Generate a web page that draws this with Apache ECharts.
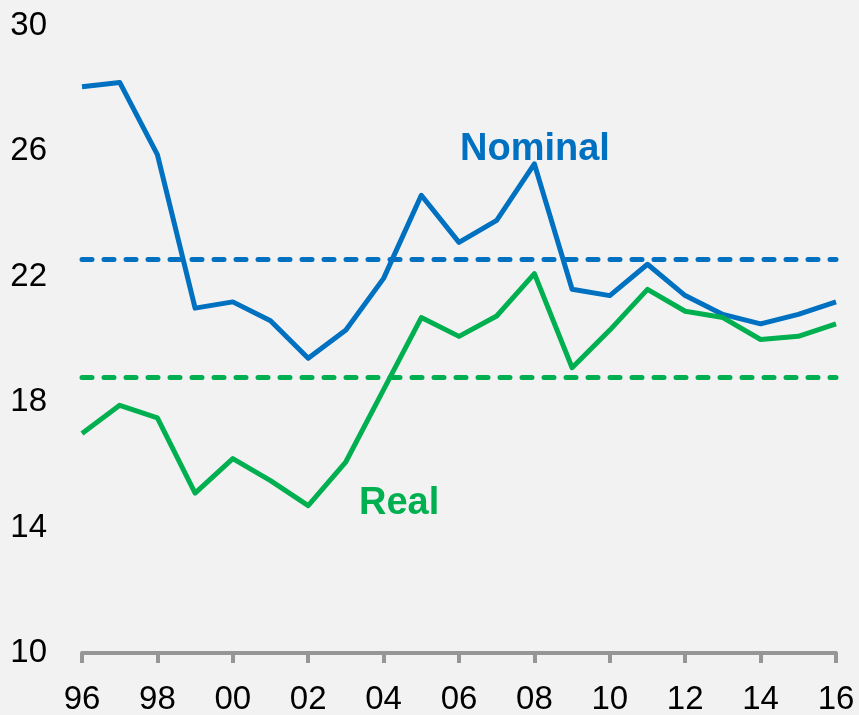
<!DOCTYPE html>
<html>
<head>
<meta charset="utf-8">
<script src="https://cdn.jsdelivr.net/npm/echarts@6/dist/echarts.min.js"></script>
<style>
html,body{margin:0;padding:0;background:#F2F2F2;}
#c{width:859px;height:715px;}
</style>
</head>
<body>
<div id="c"></div>
<script>
const years = ['96','97','98','99','00','01','02','03','04','05','06','07','08','09','10','11','12','13','14','15','16'];
const nominal = [28.06,28.2,25.9,21.0,21.2,20.6,19.4,20.3,21.95,24.6,23.1,23.8,25.6,21.6,21.4,22.4,21.4,20.8,20.5,20.8,21.2];
const real = [17.0,17.9,17.5,15.1,16.2,15.5,14.7,16.1,18.4,20.7,20.1,20.75,22.1,19.1,20.3,21.6,20.9,20.7,20.0,20.1,20.5];
const nominalAvg = 22.56;
const realAvg = 18.8;
const yTicks = [10,14,18,22,26,30];

const BLUE = '#0070C0', GREEN = '#00B050';
const chart = echarts.init(document.getElementById('c'), null, {renderer:'canvas'});
const dashStyle = (color) => ({color:color, width:5, type:[10,12], cap:'round'});
chart.setOption({
  backgroundColor:'#F2F2F2',
  animation:false,
  grid:{left:82,right:23,top:26,bottom:62,containLabel:false,outerBoundsMode:'none'},
  xAxis:{
    type:'category', data:years, boundaryGap:false,
    axisLine:{show:true,lineStyle:{color:'#969696',width:4}},
    axisTick:{show:true,interval:1,length:10,lineStyle:{color:'#969696',width:4}},
    axisLabel:{interval:1,fontSize:33,color:'#000',margin:30,fontFamily:'Liberation Sans'},
    splitLine:{show:false}
  },
  yAxis:{
    type:'value', min:10, max:30,
    axisLine:{show:false}, axisTick:{show:false}, splitLine:{show:false},
    axisLabel:{customValues:yTicks,fontSize:33,color:'#000',margin:35,fontFamily:'Liberation Sans'}
  },
  series:[
    {type:'line', name:'Nominal', data:nominal, symbol:'none', lineStyle:{color:BLUE,width:5,join:'round'}, z:3,
     markLine:{silent:true, symbol:'none', label:{show:false}, lineStyle:dashStyle(BLUE), data:[{yAxis:nominalAvg}]}},
    {type:'line', name:'Real', data:real, symbol:'none', lineStyle:{color:GREEN,width:5,join:'round'}, z:3,
     markLine:{silent:true, symbol:'none', label:{show:false}, lineStyle:dashStyle(GREEN), data:[{yAxis:realAvg}]}}
  ],
  graphic:[
    {type:'text', left:460, top:131, style:{text:'Nominal', fill:BLUE, font:'bold 38px "Liberation Sans"'}},
    {type:'text', left:359, top:485, style:{text:'Real', fill:GREEN, font:'bold 38px "Liberation Sans"'}}
  ]
});
</script>
</body>
</html>
